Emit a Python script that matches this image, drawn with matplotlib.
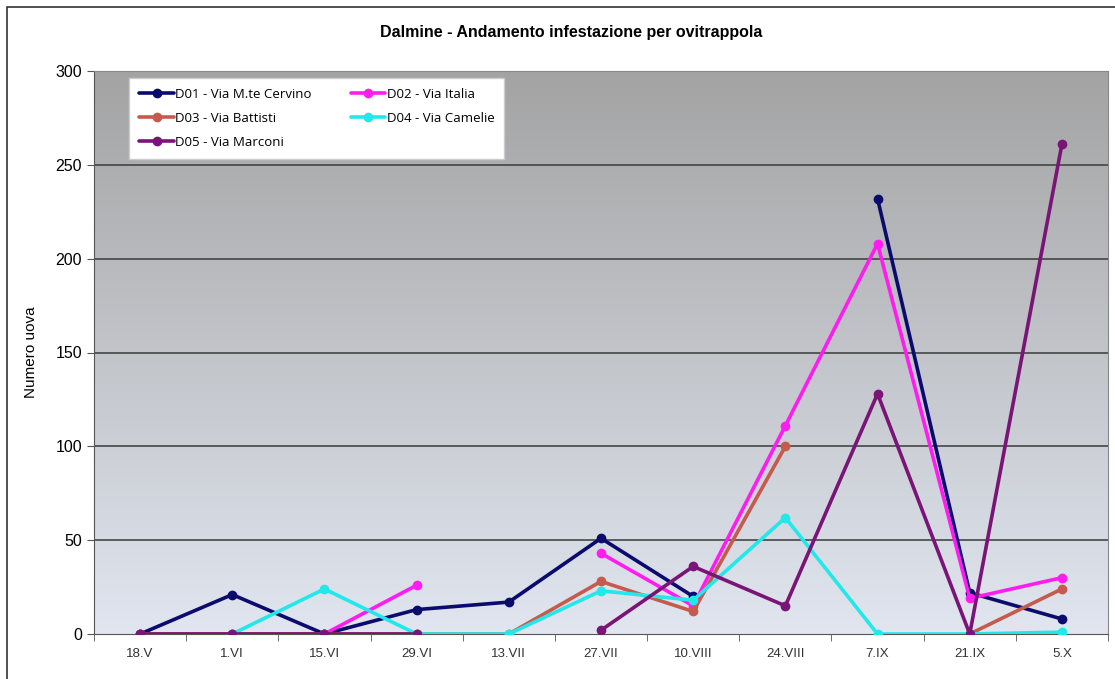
import numpy as np
import matplotlib.pyplot as plt
from matplotlib.patches import Rectangle

nan = np.nan

dates = ["18.V", "1.VI", "15.VI", "29.VI", "13.VII", "27.VII",
         "10.VIII", "24.VIII", "7.IX", "21.IX", "5.X"]

d01 = [0, 21, 0, 13, 17, 51, 20, nan, 232, 22, 8]
d02 = [0, 0, 0, 26, nan, 43, 15, 111, 208, 19, 30]
d03 = [0, 0, 0, 0, 0, 28, 12, 100, nan, 0, 24]
d04 = [nan, 0, 24, 0, 0, 23, 18, 62, 0, 0, 1]
d05 = [0, 0, 0, 0, nan, 2, 36, 15, 128, 0, 261]

series = [
    ("D01 - Via M.te Cervino", d01, "#0b0b6e"),
    ("D02 - Via Italia", d02, "#ff1cf0"),
    ("D03 - Via Battisti", d03, "#c65a4c"),
    ("D04 - Via Camelie", d04, "#22e8ea"),
    ("D05 - Via Marconi", d05, "#7a1577"),
]

plt.rcParams["font.family"] = ["Liberation Sans", "DejaVu Sans"]

fig = plt.figure(figsize=(11.15, 6.79), dpi=100)
fig.patch.set_facecolor("white")

# outer chart frame
fig.patches.append(Rectangle((7 / 1115, -0.05), 1.2, 1 - 7 / 679 + 0.05,
                             transform=fig.transFigure, fill=False,
                             edgecolor="#333333", linewidth=1.2))

ax = fig.add_axes([94 / 1115, 45 / 679, 1014 / 1115, 563 / 679])

# gradient background: dark grey at top, light blue-grey at bottom
top = np.array([0.64, 0.64, 0.64])
bottom = np.array([0.88, 0.90, 0.94])
t = np.linspace(0, 1, 256)[:, None]
grad = (top * (1 - t) + bottom * t)[:, None, :]
ax.imshow(grad, extent=[0, 1, 0, 1], transform=ax.transAxes, aspect="auto",
          zorder=0)

x = np.arange(len(dates))
lines = []
for name, vals, color in series:
    ln, = ax.plot(x, vals, color=color, linewidth=2.6, marker="o", markersize=6,
                  label=name, zorder=3, solid_capstyle="round")
    lines.append(ln)

ax.set_xlim(-0.5, len(dates) - 0.5)
ax.set_ylim(0, 300)
ax.set_yticks(range(0, 301, 50))
ax.set_xticks(x)
ax.set_xticklabels(dates, fontsize=9.5, color="#333333")
ax.set_xticks(np.arange(-0.5, len(dates), 1), minor=True)
ax.tick_params(axis="x", which="major", length=0, pad=10)
ax.tick_params(axis="x", which="minor", length=5, direction="out", color="#555555")
ax.tick_params(axis="y", length=5, direction="out", labelsize=11.5, color="#555555")

for yv in range(50, 300, 50):
    ax.axhline(yv, color="#3a3a3a", linewidth=1.1, zorder=1)

for side in ["top", "right"]:
    ax.spines[side].set_color("#888888")
for side in ["left", "bottom"]:
    ax.spines[side].set_color("#555555")

ax.set_ylabel("Numero uova", fontsize=11)
ax.yaxis.set_label_coords(-0.055, 0.5)

fig.text(571 / 1115, 1 - 33 / 679, "Dalmine - Andamento infestazione per ovitrappola",
         ha="center", va="center", fontsize=11.5, fontweight="bold")

# legend filled row by row like the original
order = [0, 2, 4, 1, 3]
leg = ax.legend([lines[i] for i in order], [series[i][0] for i in order],
                ncol=2, loc="upper left", bbox_to_anchor=(0.035, 0.988),
                frameon=True, fancybox=False, edgecolor="#cccccc",
                facecolor="white", framealpha=1,
                prop={"family": "Open Sans", "size": 9.5},
                handlelength=2.6, handletextpad=0.1, columnspacing=3.0,
                labelspacing=0.85, borderpad=0.75, borderaxespad=0)
leg.set_zorder(5)

fig.savefig("out.png", dpi=100)
